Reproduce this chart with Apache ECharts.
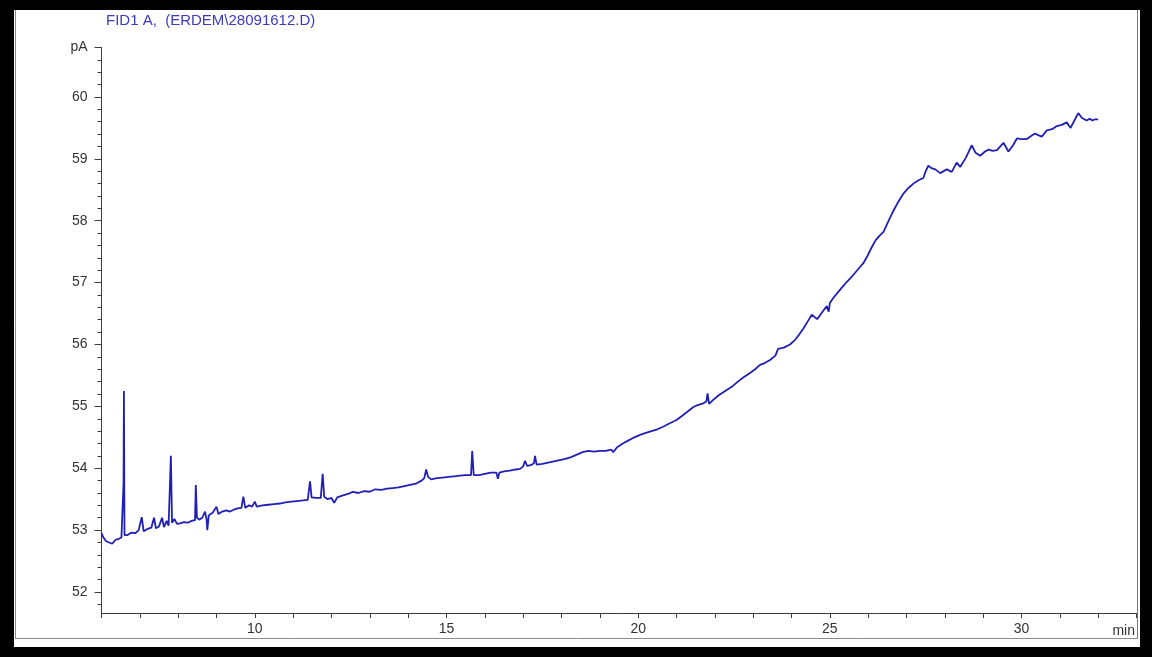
<!DOCTYPE html>
<html>
<head>
<meta charset="utf-8">
<script src="https://cdn.jsdelivr.net/npm/echarts@6/dist/echarts.min.js"></script>
<style>
  html, body { margin: 0; padding: 0; background: #000; }
  #chart { width: 1152px; height: 657px; }
</style>
</head>
<body>
<div id="chart"></div>
<script>
// FID1 A detector trace: retention time (min) and signal (pA)
const retentionTimes = [
  6.00, 6.05, 6.12, 6.20, 6.28, 6.36, 6.45, 6.52, 6.565, 6.575, 6.585, 6.60, 6.68, 6.78, 6.88, 6.97,
  7.05, 7.10, 7.20, 7.30, 7.37, 7.42, 7.50, 7.58, 7.63, 7.70, 7.75, 7.79, 7.81, 7.84, 7.90, 7.97,
  8.05, 8.15, 8.25, 8.35, 8.44, 8.46, 8.49, 8.55, 8.63, 8.70, 8.74, 8.76, 8.80, 8.90,
  9.00, 9.05, 9.15, 9.25, 9.35, 9.45, 9.55, 9.65, 9.70, 9.75, 9.85, 9.93,
  10.00, 10.05, 10.20, 10.35, 10.50, 10.65, 10.80, 10.95, 11.10, 11.25, 11.38, 11.44, 11.48, 11.60,
  11.72, 11.77, 11.81, 11.90, 12.00, 12.07, 12.15, 12.30, 12.45, 12.56, 12.70, 12.85,
  13.00, 13.14, 13.30, 13.45, 13.60, 13.75, 13.90, 14.05, 14.20, 14.35, 14.42, 14.47, 14.52, 14.60,
  14.75, 14.90, 15.05, 15.20, 15.35, 15.50, 15.64, 15.67, 15.71, 15.85,
  16.00, 16.15, 16.30, 16.34, 16.38, 16.50, 16.65, 16.80, 16.92, 17.00, 17.05, 17.10, 17.20, 17.28,
  17.31, 17.35, 17.50, 17.65, 17.80, 17.95, 18.10, 18.25, 18.40, 18.55, 18.70, 18.85,
  19.00, 19.15, 19.30, 19.35, 19.45, 19.60, 19.75, 19.90, 20.05, 20.20, 20.35, 20.50, 20.65, 20.80,
  21.00, 21.15, 21.30, 21.44, 21.55, 21.70, 21.78, 21.81, 21.85, 21.95, 22.10, 22.30, 22.45, 22.60,
  22.75, 22.90, 23.05, 23.18, 23.30, 23.44, 23.58, 23.65, 23.80, 23.96, 24.10, 24.20, 24.31, 24.42,
  24.53, 24.67, 24.80, 24.92, 24.97, 25.00, 25.10, 25.22, 25.33, 25.44, 25.55, 25.66, 25.77, 25.87,
  25.98, 26.10, 26.20, 26.30, 26.40, 26.52, 26.65, 26.78, 26.92, 27.05, 27.18, 27.30, 27.44, 27.50,
  27.57, 27.65, 27.75, 27.88, 28.05, 28.18, 28.31, 28.40, 28.55, 28.70, 28.80, 28.92, 29.05, 29.14,
  29.25, 29.36, 29.53, 29.66, 29.78, 29.88, 30.00, 30.14, 30.25, 30.35, 30.45, 30.53, 30.66, 30.80,
  30.92, 31.05, 31.18, 31.28, 31.38, 31.48, 31.58, 31.70, 31.78, 31.85, 31.92, 32.00
];
const signalPA = [
  52.95, 52.88, 52.82, 52.80, 52.78, 52.84, 52.86, 52.88, 52.90, 53.76, 55.25, 52.92, 52.92, 52.96, 52.95, 53.00,
  53.21, 52.98, 53.02, 53.04, 53.20, 53.03, 53.06, 53.20, 53.05, 53.15, 53.07, 53.10, 54.20, 53.12, 53.18, 53.10,
  53.11, 53.13, 53.12, 53.15, 53.16, 53.73, 53.20, 53.17, 53.20, 53.30, 53.18, 53.00, 53.24, 53.28,
  53.38, 53.26, 53.30, 53.32, 53.30, 53.33, 53.35, 53.36, 53.54, 53.36, 53.40, 53.38,
  53.46, 53.38, 53.40, 53.41, 53.42, 53.43, 53.45, 53.46, 53.47, 53.48, 53.49, 53.79, 53.53, 53.52,
  53.52, 53.91, 53.54, 53.50, 53.52, 53.44, 53.53, 53.56, 53.59, 53.62, 53.60, 53.63,
  53.62, 53.66, 53.65, 53.67, 53.68, 53.69, 53.71, 53.73, 53.75, 53.80, 53.84, 53.98, 53.86, 53.82,
  53.84, 53.85, 53.86, 53.87, 53.88, 53.89, 53.89, 54.28, 53.89, 53.89,
  53.91, 53.93, 53.93, 53.83, 53.93, 53.95, 53.96, 53.98, 53.99, 54.03, 54.12, 54.04, 54.05, 54.08,
  54.20, 54.06, 54.07, 54.09, 54.11, 54.13, 54.15, 54.18, 54.22, 54.26, 54.28, 54.27,
  54.28, 54.28, 54.30, 54.26, 54.34, 54.40, 54.45, 54.50, 54.54, 54.57, 54.60, 54.63, 54.67, 54.72,
  54.78, 54.85, 54.92, 54.99, 55.02, 55.05, 55.08, 55.21, 55.04, 55.10, 55.18, 55.26, 55.32, 55.40,
  55.47, 55.53, 55.60, 55.67, 55.70, 55.75, 55.82, 55.93, 55.95, 56.00, 56.08, 56.16, 56.26, 56.37,
  56.48, 56.41, 56.52, 56.62, 56.53, 56.67, 56.76, 56.85, 56.93, 57.01, 57.08, 57.16, 57.24, 57.31,
  57.43, 57.58, 57.69, 57.76, 57.82, 57.98, 58.15, 58.30, 58.44, 58.53, 58.60, 58.65, 58.69, 58.80,
  58.89, 58.85, 58.83, 58.77, 58.83, 58.79, 58.94, 58.87, 59.02, 59.22, 59.10, 59.05, 59.12, 59.15,
  59.13, 59.14, 59.26, 59.12, 59.22, 59.33, 59.32, 59.32, 59.37, 59.41, 59.38, 59.36, 59.46, 59.48,
  59.53, 59.55, 59.59, 59.50, 59.62, 59.74, 59.66, 59.62, 59.65, 59.62, 59.64, 59.64
];

// axis ranges and labelled ticks
const timeRange = [6, 33];
const signalRange = [51.66, 60.8];
const timeLabels = [10, 15, 20, 25, 30];
const signalLabels = [52, 53, 54, 55, 56, 57, 58, 59, 60];
const signalUnit = 'pA';
const timeUnit = 'min';
const titleText = 'FID1 A,  (ERDEM\\28091612.D)';

const FONT = '"Liberation Sans", Arial, sans-serif';
const AXIS_COLOR = '#3c3c3c';
const TEXT_COLOR = '#333333';

// pixel layout of the plot area
const plotLeft = 101.5, plotRight = 1136.5, plotTop = 47.5;
const pxPerUnit = 61.875;
const plotWidth = plotRight - plotLeft;
const gridFor = (lo) => ({
  left: plotLeft, top: plotTop, width: plotWidth,
  height: (signalRange[1] - lo) * pxPerUnit
});

const traceData = retentionTimes.map((t, i) => [t, signalPA[i]]);

const chart = echarts.init(document.getElementById('chart'), null, { renderer: 'canvas' });

chart.setOption({
  animation: false,
  backgroundColor: '#000000',
  textStyle: { fontFamily: FONT },
  grid: [
    gridFor(signalRange[0]),   // trace + time axis
    gridFor(51.8),             // minor signal ticks
    gridFor(signalLabels[0])   // major signal ticks + labels
  ],
  xAxis: [
    {
      gridIndex: 0, type: 'value', min: timeRange[0], max: timeRange[1], interval: 1,
      axisLine: { show: true, onZero: false, lineStyle: { color: AXIS_COLOR, width: 1 } },
      axisTick: { show: true, length: 5, lineStyle: { color: AXIS_COLOR, width: 1 } },
      axisLabel: {
        show: true, margin: 9, color: TEXT_COLOR, fontSize: 14, fontFamily: FONT,
        formatter: (v) => timeLabels.includes(Math.round(v)) && Math.abs(v - Math.round(v)) < 1e-6 ? String(Math.round(v)) : ''
      },
      splitLine: { show: false }
    },
    { gridIndex: 1, type: 'value', min: timeRange[0], max: timeRange[1], show: false },
    { gridIndex: 2, type: 'value', min: timeRange[0], max: timeRange[1], show: false }
  ],
  yAxis: [
    {
      gridIndex: 0, type: 'value', min: signalRange[0], max: signalRange[1],
      axisLine: { show: true, onZero: false, lineStyle: { color: AXIS_COLOR, width: 1 } },
      axisTick: { show: false }, axisLabel: { show: false }, splitLine: { show: false }
    },
    {
      gridIndex: 1, type: 'value', min: 51.8, max: signalRange[1], interval: 0.2,
      axisLine: { show: false },
      axisTick: { show: true, length: 4, lineStyle: { color: AXIS_COLOR, width: 1 } },
      axisLabel: { show: false }, splitLine: { show: false }
    },
    {
      gridIndex: 2, type: 'value', min: signalLabels[0], max: signalRange[1], interval: 1,
      axisLine: { show: false },
      axisTick: { show: true, length: 7, lineStyle: { color: AXIS_COLOR, width: 1 } },
      axisLabel: {
        show: true, margin: 14, color: TEXT_COLOR, fontSize: 14, fontFamily: FONT,
        formatter: (v) => Math.abs(v - signalRange[1]) < 1e-6 ? signalUnit :
          (signalLabels.includes(Math.round(v)) ? String(Math.round(v)) : '')
      },
      splitLine: { show: false }
    }
  ],
  graphic: [
    // white sheet with grey frame
    { type: 'rect', z: -10, silent: true, shape: { x: 14, y: 10, width: 1126, height: 637 }, style: { fill: '#ffffff' } },
    { type: 'line', z: -5, silent: true, shape: { x1: 15.5, y1: 10, x2: 15.5, y2: 638.5 }, style: { stroke: '#8a8a8a', lineWidth: 1 } },
    { type: 'line', z: -5, silent: true, shape: { x1: 15, y1: 638.5, x2: 1138, y2: 638.5 }, style: { stroke: '#8a8a8a', lineWidth: 1 } },
    { type: 'line', z: -5, silent: true, shape: { x1: 1137.5, y1: 10, x2: 1137.5, y2: 638.5 }, style: { stroke: '#7a7a7a', lineWidth: 1 } },
    // trace title
    { type: 'text', silent: true, left: 106, top: 13,
      style: { text: titleText, fill: '#3a3ac2', font: '15px ' + FONT } },
    // time unit at the end of the axis
    { type: 'text', silent: true, right: 1152 - 1135, top: 624,
      style: { text: timeUnit, fill: TEXT_COLOR, font: '14px ' + FONT } }
  ],
  series: [
    {
      type: 'line', xAxisIndex: 0, yAxisIndex: 0,
      data: traceData, symbol: 'none', smooth: false,
      lineStyle: { color: '#2020b4', width: 1.8 },
      clip: true
    }
  ]
});
</script>
</body>
</html>
